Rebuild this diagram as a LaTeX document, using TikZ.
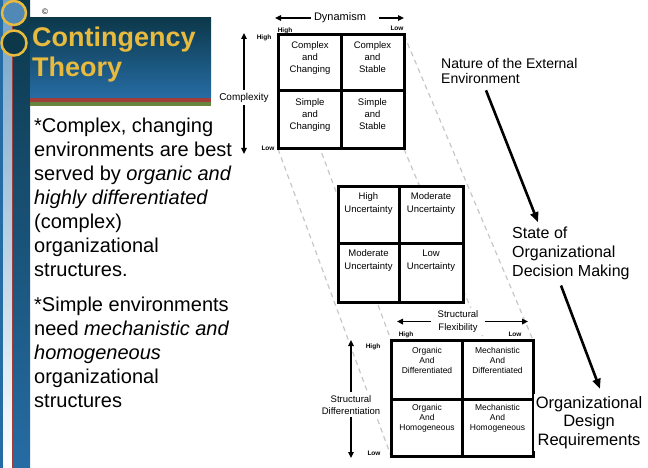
\documentclass[tikz,border=0pt]{standalone}
\usepackage{fontspec}
\setmainfont{Liberation Sans}
\usetikzlibrary{arrows.meta}

\definecolor{titlegold}{RGB}{232,186,62}
\definecolor{slidedark}{RGB}{12,56,74}
\definecolor{slideblue}{RGB}{38,108,164}
\definecolor{slidesteel}{RGB}{112,160,198}
\definecolor{stripered}{RGB}{162,62,58}
\definecolor{stripegreen}{RGB}{102,134,62}

\newcommand{\fsize}[2]{\fontsize{#1bp}{#2bp}\selectfont}

% multi-line nodes sit on the baseline of their last line
\tikzset{
  quadbox/.style={draw, line width=3bp, fill=white},
  quadline/.style={line width=3bp},
  quadtext/.style={align=center, inner sep=0pt, anchor=base},
  endtag/.style={font=\bfseries\fsize{6.5}{7}, inner sep=0pt},
  axislabel/.style={align=center, fill=white, inner sep=3bp, font=\fsize{9.5}{12}},
  axisarrow/.style={line width=1.8bp, -{Triangle[length=6bp,width=5.5bp]}},
  flowarrow/.style={line width=2.6bp, -{Triangle[length=10bp,width=8bp]}},
  bodytext/.style={align=left, inner sep=0pt, anchor=base west, font=\fsize{20}{24}},
  sidetext/.style={fill=white, inner sep=2bp},
  guide/.style={black!22, line width=1.2bp, dash pattern=on 5bp off 4bp},
}

\begin{document}
\begin{tikzpicture}[x=1bp, y=-1bp]
\useasboundingbox (0,0) rectangle (648,468);

% slide frame on the left
\fill[slideblue] (0,0) rectangle (3,468);
\shade[top color=slidesteel, bottom color=white] (3,0) rectangle (12,468);
\fill[stripered] (12,0) rectangle (13.5,468);
\shade[top color=slidedark, bottom color=slideblue] (13.5,0) rectangle (30,468);
\draw[titlegold, line width=2.5bp, fill=slideblue!80!white] (14,13) circle (12bp);
\draw[titlegold, line width=2.5bp, fill=slidedark] (14,43) circle (12.5bp);

% title
\shade[top color=slidedark, bottom color=slideblue] (30,18) rectangle (211,98);
\fill[stripered] (30,98) rectangle (211,102);
\fill[stripegreen] (30,102) rectangle (211,106);
\node[font=\fsize{8}{8}] (copy) at (45,12) {\textcopyright};
\node[anchor=base west, align=left, inner sep=0pt, text=titlegold,
      font=\bfseries\fsize{27}{30}] (title) at (32,77) {Contingency\\Theory};

% notes
\node[bodytext] (complexnote) at (34,277) {*Complex, changing\\environments are best\\served by \textit{organic and}\\\textit{highly differentiated}\\(complex)\\organizational\\structures.};
\node[bodytext] (simplenote) at (34,407) {*Simple environments\\need \textit{mechanistic and}\\\textit{homogeneous}\\organizational\\structures};

% corners of the outer grids
\coordinate (envNW) at (278,35);  \coordinate (envNE) at (404,35);
\coordinate (envSW) at (278,149); \coordinate (envSE) at (404,149);
\coordinate (reqNW) at (391,340); \coordinate (reqNE) at (533,340);
\coordinate (reqSW) at (391,456); \coordinate (reqSE) at (533,456);
\foreach \c in {NW,NE,SW,SE}
  \draw[guide] (env\c) -- (req\c);

% nature of the external environment
\draw[quadbox] (envNW) rectangle (envSE);
\draw[quadline] (341,35) -- (341,149) (278,91) -- (404,91);
\node[quadtext, font=\fsize{9.5}{12}] (cplxchg) at (310,73) {Complex\\and\\Changing};
\node[quadtext, font=\fsize{9.5}{12}] (cplxstb) at (372.5,73) {Complex\\and\\Stable};
\node[quadtext, font=\fsize{9.5}{12}] (simpchg) at (310,130) {Simple\\and\\Changing};
\node[quadtext, font=\fsize{9.5}{12}] (simpstb) at (372.5,130) {Simple\\and\\Stable};

% state of decision making
\draw[quadbox] (338,187) rectangle (463,302);
\draw[quadline] (399,187) -- (399,302) (338,244) -- (463,244);
\node[quadtext, font=\fsize{9.5}{13}] (highunc) at (368.5,213) {High\\Uncertainty};
\node[quadtext, font=\fsize{9.5}{13}] (modunca) at (431,213) {Moderate\\Uncertainty};
\node[quadtext, font=\fsize{9.5}{13}] (moduncb) at (368.5,270) {Moderate\\Uncertainty};
\node[quadtext, font=\fsize{9.5}{13}] (lowunc) at (431,270) {Low\\Uncertainty};

% design requirements
\draw[quadbox] (reqNW) rectangle (reqSE);
\draw[quadline] (462,340) -- (462,456) (391,399) -- (533,399);
\node[quadtext, font=\fsize{8.5}{10.3}] (orgdiff) at (427,373.6) {Organic\\And\\Differentiated};
\node[quadtext, font=\fsize{8.5}{10.3}] (mechdiff) at (497.5,373.6) {Mechanistic\\And\\Differentiated};
\node[quadtext, font=\fsize{8.5}{10.3}] (orghomo) at (427,430.6) {Organic\\And\\Homogeneous};
\node[quadtext, font=\fsize{8.5}{10.3}] (mechhomo) at (497.5,430.6) {Mechanistic\\And\\Homogeneous};

% dynamism
\node[axislabel, font=\fsize{11}{12}] (dyn) at (340,18) {Dynamism};
\coordinate (dynhigh) at (275,18);
\coordinate (dynlow) at (404,18);
\draw[axisarrow] (dyn.west) -- (dyn.west -| dynhigh);
\draw[axisarrow] ([xshift=10bp]dyn.east) -- (dyn.east -| dynlow);
\node[endtag] (dynhightag) at (285,31) {High};
\node[endtag] (dynlowtag) at (397,28) {Low};

% complexity
\node[axislabel, font=\fsize{10}{12}] (cplx) at (244,97.5) {Complexity};
\coordinate (cplxhigh) at (244,33);
\coordinate (cplxlow) at (244,154);
\draw[axisarrow] (cplx.north) -- (cplx.north |- cplxhigh);
\draw[axisarrow] (cplx.south) -- (cplx.south |- cplxlow);
\node[endtag] (cplxhightag) at (264,38) {High};
\node[endtag] (cplxlowtag) at (268,148) {Low};

% structural flexibility
\node[axislabel, inner xsep=6bp, anchor=base] (flex) at (458,330) {Structural\\Flexibility};
\coordinate (flexhigh) at (397,321);
\coordinate (flexlow) at (528,321);
\draw[axisarrow] (flex.west) -- (flex.west -| flexhigh);
\draw[axisarrow] (flex.east) -- (flex.east -| flexlow);
\node[endtag] (flexhightag) at (406,335) {High};
\node[endtag] (flexlowtag) at (515,334) {Low};

% structural differentiation
\node[axislabel, anchor=base] (sdiff) at (351,414) {Structural\\Differentiation};
\coordinate (sdhigh) at (351,340);
\coordinate (sdlow) at (351,458);
\draw[axisarrow] (sdiff.north) -- (sdiff.north |- sdhigh);
\draw[axisarrow] (sdiff.south) -- (sdiff.south |- sdlow);
\node[endtag] (sdhightag) at (373,347) {High};
\node[endtag] (sdlowtag) at (374,453) {Low};

% chain on the right
\node[sidetext, anchor=base west, align=left, font=\fsize{14}{15}] (nature) at (439,84) {Nature of the External\\Environment};
\node[sidetext, anchor=base west, align=left, font=\fsize{16}{19}] (state) at (510,277) {State of\\Organizational\\Decision Making};
\node[sidetext, anchor=base, align=center, font=\fsize{16.5}{18.7}] (design) at (589,445.4) {Organizational\\Design\\Requirements};
\draw[flowarrow] ([xshift=47bp, yshift=-4bp]nature.south west) -- ([xshift=28bp, yshift=3bp]state.north west);
\draw[flowarrow] ([xshift=51bp, yshift=-3bp]state.south west) -- ([xshift=11bp, yshift=5bp]design.north);
\end{tikzpicture}
\end{document}
